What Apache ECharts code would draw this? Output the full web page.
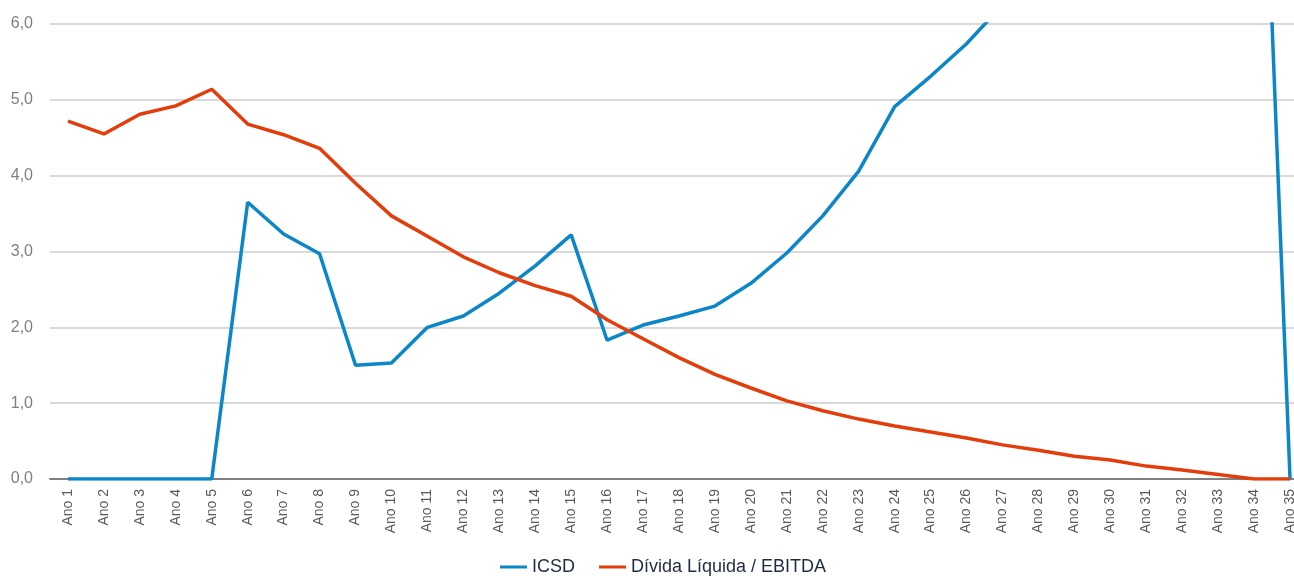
<!DOCTYPE html>
<html>
<head>
<meta charset="utf-8">
<script src="https://cdn.jsdelivr.net/npm/echarts@6/dist/echarts.min.js"></script>
<style>
  html, body { margin: 0; padding: 0; background: #fff; }
  #main { width: 1294px; height: 578px; }
</style>
</head>
<body>
<div id="main"></div>
<script>
// Anos 1..35
const categories = [];
for (let i = 1; i <= 35; i++) categories.push('Ano ' + i);

// ICSD (values above 6,0 are cut off in the original, estimated)
const icsd = [0, 0, 0, 0, 0, 3.65, 3.23, 2.97, 1.50, 1.53, 2.00, 2.15, 2.45, 2.81, 3.22,
  1.83, 2.03, 2.15, 2.28, 2.58, 2.98, 3.47, 4.06, 4.91, 5.31, 5.74, 6.25, 6.8, 7.4, 8.1,
  8.9, 9.8, 10.8, 12.0, 0];

// Dívida Líquida / EBITDA
const dividaEbitda = [4.72, 4.55, 4.81, 4.92, 5.14, 4.68, 4.54, 4.36, 3.90, 3.47, 3.20,
  2.93, 2.72, 2.55, 2.41, 2.10, 1.85, 1.60, 1.38, 1.20, 1.03, 0.90, 0.79, 0.70, 0.62,
  0.54, 0.45, 0.38, 0.30, 0.25, 0.17, 0.12, 0.06, 0, 0];

const yTicks = { min: 0, max: 6, interval: 1 };

const chart = echarts.init(document.getElementById('main'));

const option = {
  animation: false,
  textStyle: { fontFamily: '"Liberation Sans Narrow", "Liberation Sans", Arial, sans-serif' },
  // plot area runs past the right edge of the picture, like the original crop
  grid: { left: 50, right: -14, top: 24, bottom: 99, outerBoundsMode: 'none', containLabel: false },
  legend: {
    data: ['ICSD', 'Dívida Líquida / EBITDA'],
    bottom: -3,
    left: 495,
    icon: 'rect',
    itemWidth: 27,
    itemHeight: 3,
    itemGap: 24,
    textStyle: { color: '#1f2a44', fontSize: 18 }
  },
  xAxis: {
    type: 'category',
    data: categories,
    boundaryGap: true,
    axisLine: { lineStyle: { color: '#808080', width: 2 } },
    axisTick: { show: false },
    axisLabel: { rotate: 90, color: '#595959', fontSize: 14, margin: 10, interval: 0 }
  },
  yAxis: {
    type: 'value',
    min: yTicks.min,
    max: yTicks.max,
    interval: yTicks.interval,
    axisLine: { show: false },
    axisTick: { show: false },
    splitLine: { lineStyle: { color: '#d9d9d9', width: 2 } },
    axisLabel: {
      color: '#808080',
      fontSize: 16,
      margin: 17,
      formatter: v => v.toFixed(1).replace('.', ',')
    }
  },
  series: [
    {
      name: 'ICSD',
      type: 'line',
      data: icsd,
      symbol: 'none',
      clip: true,
      lineStyle: { color: '#0a86c9', width: 3.5 },
      itemStyle: { color: '#0a86c9' }
    },
    {
      name: 'Dívida Líquida / EBITDA',
      type: 'line',
      data: dividaEbitda,
      symbol: 'none',
      clip: true,
      lineStyle: { color: '#e23d0b', width: 3.5 },
      itemStyle: { color: '#e23d0b' }
    }
  ]
};

chart.setOption(option);
</script>
</body>
</html>
